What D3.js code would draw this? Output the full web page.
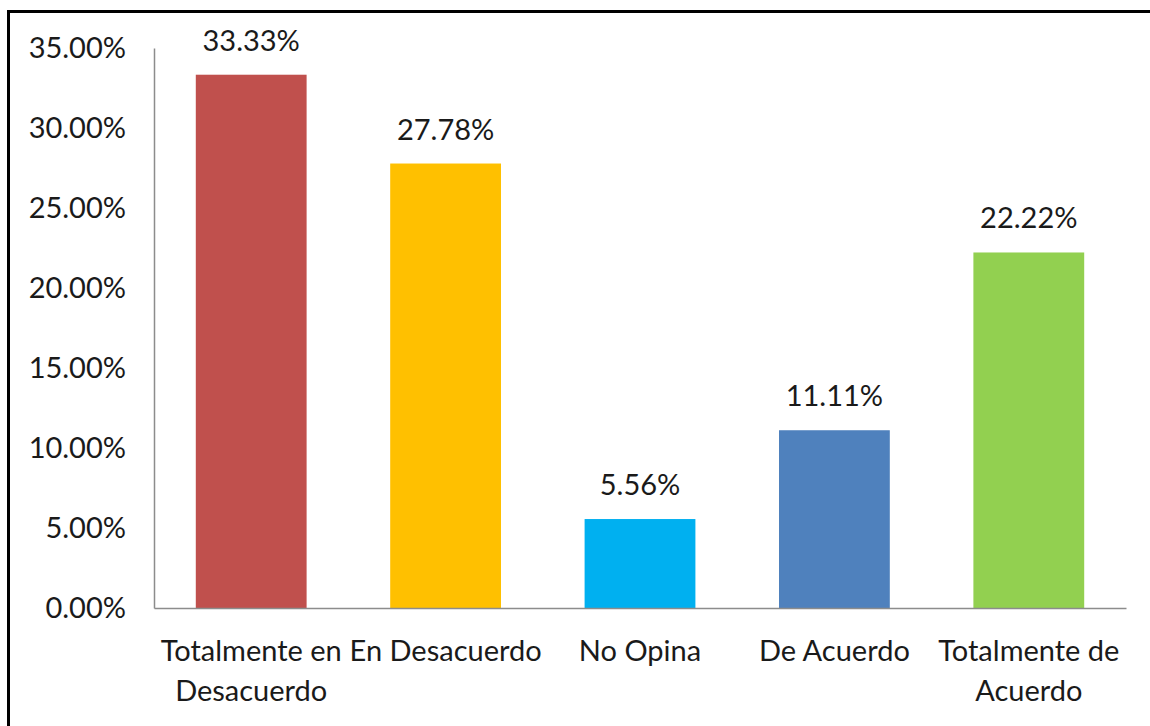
<!DOCTYPE html>
<html>
<head>
<meta charset="utf-8">
<script src="https://cdn.jsdelivr.net/npm/d3@7/dist/d3.min.js"></script>
<style>
  body { margin: 0; background: #fff; }
  text { font-family: Lato, "Open Sans", sans-serif; fill: #1a1a1a; }
</style>
</head>
<body>
<div id="chart"></div>
<script>
// data
var categories = ['Totalmente en Desacuerdo', 'En Desacuerdo', 'No Opina', 'De Acuerdo', 'Totalmente de Acuerdo'];
var values = [33.33, 27.78, 5.56, 11.11, 22.22];
var colors = ['#C0504D', '#FFC000', '#00B0F0', '#4F81BD', '#92D050'];
var yTicks = [0, 5, 10, 15, 20, 25, 30, 35];

var width = 1150, height = 726;
var margin = {top: 48, right: 24, bottom: 118, left: 154};
var fontSize = 29;

var svg = d3.select('#chart').append('svg')
  .attr('width', width)
  .attr('height', height);

// frame (only top and left edges show in the picture)
svg.append('path')
  .attr('d', 'M8.5,' + height + 'V11.5H' + width)
  .attr('fill', 'none')
  .attr('stroke', '#000')
  .attr('stroke-width', 3);

var x = d3.scaleBand()
  .domain(categories)
  .range([margin.left, width - margin.right])
  .paddingInner(0.43)
  .paddingOuter(0.215);

var y = d3.scaleLinear()
  .domain([0, 35])
  .range([height - margin.bottom, margin.top]);

// y axis
var yAxis = svg.append('g')
  .attr('transform', 'translate(' + margin.left + ',0)')
  .call(d3.axisLeft(y).tickValues(yTicks).tickSize(0).tickPadding(28)
    .tickFormat(function(d) { return d.toFixed(2) + '%'; }));
yAxis.select('.domain').attr('stroke', '#8c8c8c').attr('stroke-width', 1.5);
yAxis.selectAll('text').attr('font-size', fontSize).attr('fill', '#1a1a1a');

// bars
svg.selectAll('.bar')
  .data(values)
  .enter().append('rect')
  .attr('class', 'bar')
  .attr('x', function(d, i) { return x(categories[i]); })
  .attr('y', function(d) { return y(d); })
  .attr('width', x.bandwidth())
  .attr('height', function(d) { return y(0) - y(d); })
  .attr('fill', function(d, i) { return colors[i]; });

// value labels
svg.selectAll('.lbl')
  .data(values)
  .enter().append('text')
  .attr('class', 'lbl')
  .attr('x', function(d, i) { return x(categories[i]) + x.bandwidth() / 2; })
  .attr('y', function(d) { return y(d) - 24; })
  .attr('text-anchor', 'middle')
  .attr('font-size', fontSize)
  .text(function(d) { return d.toFixed(2) + '%'; });

// x axis
var xAxis = svg.append('g')
  .attr('transform', 'translate(0,' + y(0) + ')')
  .call(d3.axisBottom(x).tickSize(0).tickPadding(0));
xAxis.select('.domain').attr('stroke', '#8c8c8c').attr('stroke-width', 1.5);
xAxis.selectAll('text').attr('font-size', fontSize).attr('fill', '#1a1a1a')
  .attr('dy', null)
  .call(wrap, x.step() + 4);

function wrap(sel, w) {
  sel.each(function() {
    var text = d3.select(this);
    var words = text.text().split(' ');
    text.text(null);
    var line = [], lineNo = 0;
    var tspan = text.append('tspan').attr('x', 0).attr('y', 53);
    words.forEach(function(word) {
      line.push(word);
      tspan.text(line.join(' '));
      if (tspan.node().getComputedTextLength() > w && line.length > 1) {
        line.pop();
        tspan.text(line.join(' '));
        line = [word];
        lineNo++;
        tspan = text.append('tspan').attr('x', 0).attr('y', 53 + lineNo * 40).text(word);
      }
    });
  });
}
</script>
</body>
</html>
